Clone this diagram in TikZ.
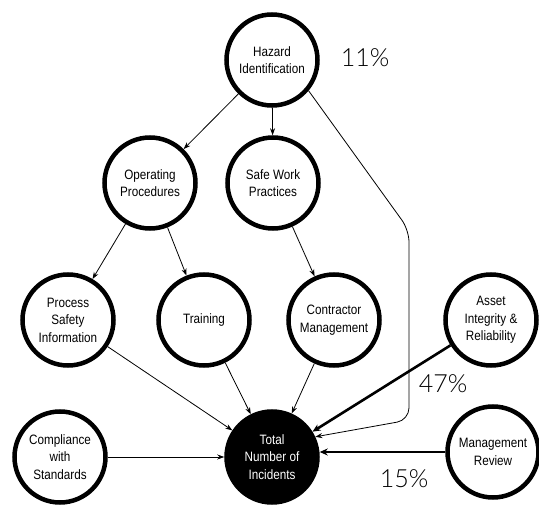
\documentclass[tikz,border=0pt]{standalone}
\usepackage{fontspec}
\setmainfont{Liberation Sans}[FakeStretch=0.86]
\newfontfamily\pctfont{Lato Light}
\usetikzlibrary{arrows.meta}
\begin{document}
\begin{tikzpicture}[x=1pt,y=-1pt,
  factor/.style={circle,draw=black,line width=4.5pt,minimum size=91pt,inner sep=0pt,
    align=center,font=\fontsize{13.6}{17.5}\selectfont},
  total/.style={factor,fill=black,text=white},
  link/.style={line width=0.8pt,-{Stealth[length=7pt,width=5pt]}},
  strong/.style={line width=2.6pt,-{Stealth[length=8pt,width=7pt]}},
  pct/.style={font=\pctfont\fontsize{25}{25}\selectfont}]
\useasboundingbox (0,0) rectangle (539,508);
\node[factor] (haz) at (272,60) {Hazard\\Identification};
\node[factor] (op) at (150,183) {Operating\\Procedures};
\node[factor] (swp) at (273,183) {Safe Work\\Practices};
\node[factor] (psi) at (68,320) {Process\\Safety\\Information};
\node[factor] (tr) at (204,320) {Training};
\node[factor] (cm) at (334,320) {Contractor\\Management};
\node[factor] (ai) at (491,320) {Asset\\Integrity \&\\Reliability};
\node[factor] (cs) at (60,457) {Compliance\\with\\Standards};
\node[total] (tot) at (272,457) {Total\\Number of\\Incidents};
\node[factor] (mr) at (493,452) {Management\\Review};
\coordinate (bendA) at (409,230);
\coordinate (bendB) at (409,420);
\draw[link] (haz) -- (op);
\draw[link] (haz) -- (swp);
\draw[link,rounded corners=12pt] (haz.-40) -- (bendA) -- (bendB) -- (tot.25);
\draw[link] (op) -- (psi);
\draw[link] (op) -- (tr);
\draw[link] (swp) -- (cm);
\draw[link] (psi) -- (tot);
\draw[link] (tr) -- (tot);
\draw[link] (cm) -- (tot);
\draw[link] (cs) -- (tot);
\draw[strong] (ai) -- (tot);
\draw[strong] (mr.west) -- (tot.east |- mr.west);
\node[pct] (p11) at (365,58) {11\%};
\node[pct] (p47) at (443,384) {47\%};
\node[pct] (p15) at (404,479) {15\%};
\end{tikzpicture}
\end{document}
